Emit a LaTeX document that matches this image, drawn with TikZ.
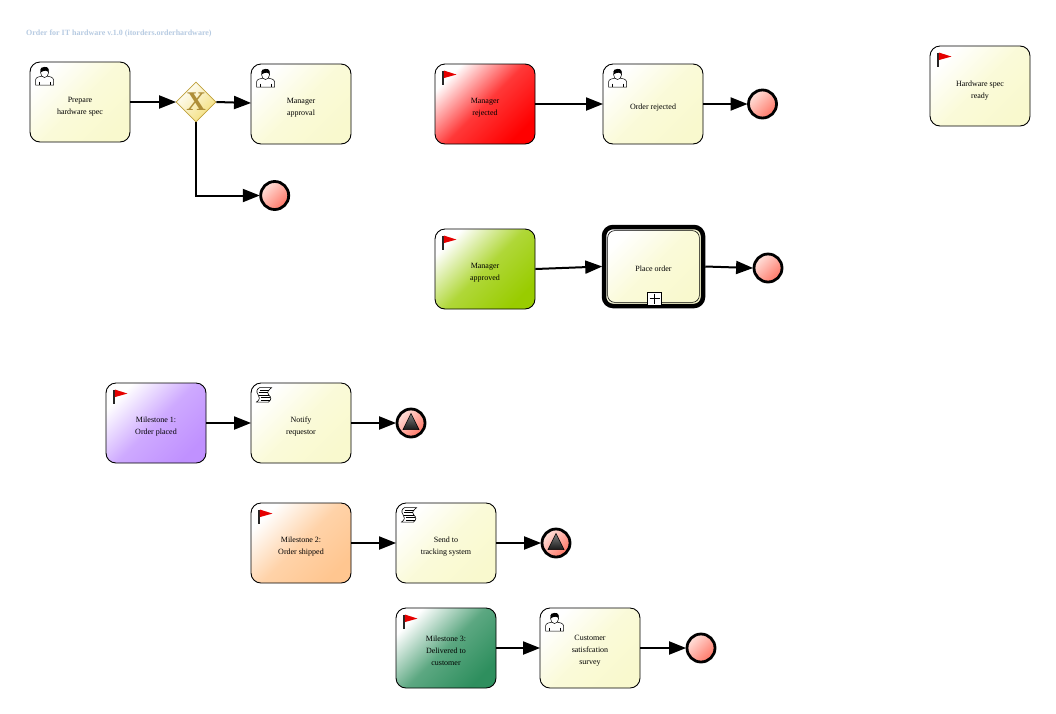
\documentclass[tikz,border=0pt]{standalone}
\usepackage{fontspec}
\setmainfont{Liberation Serif}
\usetikzlibrary{arrows.meta,shapes.geometric,calc}
\definecolor{taskc}{HTML}{F9F9CE}
\definecolor{redc}{HTML}{FF0000}
\definecolor{greenc}{HTML}{99CC00}
\definecolor{purplec}{HTML}{C091FF}
\definecolor{orangec}{HTML}{FFC690}
\definecolor{dgreenc}{HTML}{2E8F5E}
\definecolor{titlec}{HTML}{B7CBE2}
\definecolor{goldb}{HTML}{BFA03A}
\definecolor{goldx}{HTML}{AE8E38}
\definecolor{goldf}{HTML}{F3DE78}
\definecolor{endtop}{HTML}{FFE2DC}
\definecolor{endbot}{HTML}{FF7565}
\newcommand{\ts}[1][13.3]{\rule{0pt}{#1pt}}
\tikzset{
  x=1pt,y=-1pt,
  bpmn/.style={draw=black,line width=.9pt,rounded corners=10pt,minimum width=100pt,minimum height=80pt,inner sep=0pt,align=center,
    font=\fontsize{8}{12}\selectfont},
  flagnode/.style={bpmn,top color=white,bottom color=#1,middle color=#1!78!white,shading angle=45},
  tasknode/.style={flagnode=taskc},
  subproc/.style={tasknode,line width=4.5pt,rounded corners=9pt,minimum width=99pt,minimum height=79pt},
  endev/.style={circle,draw=black,line width=2.8pt,minimum size=28pt,inner sep=0pt,top color=endtop,bottom color=endbot,shading angle=45},
  gate/.style={diamond,aspect=1,draw=goldb,line width=.8pt,minimum size=40pt,inner sep=0pt,top color=white,bottom color=goldf,shading angle=45},
  flow/.style={draw=black,line width=2pt,-{Triangle[length=17pt,width=13pt]},shorten >=-.5pt},
  titletext/.style={font=\fontsize{8}{10}\bfseries\selectfont,text=titlec,inner sep=0pt,anchor=west}
}
\newcommand{\flagicon}[1]{%
  \fill[black!85] ($(#1.north west)+(7,7)$) rectangle ++(2.4,14);
  \fill[red!90!black] ($(#1.north west)+(9.4,7)$) -- ++(12.5,4) -- ++(-12.5,3.5) -- cycle;}
\newcommand{\usericon}[1]{%
  \begin{scope}[shift={($(#1.north west)+(6,5)$)}]
    \draw[black,line width=.5pt,fill=white] (0,18.5) -- (0,13.5) .. controls (0,10.5) and (4,10) .. (6.5,9.5) -- (11.5,9.5) .. controls (14,10) and (18,10.5) .. (18,13.5) -- (18,18.5) -- cycle;
    \draw[black,line width=.4pt] (3.5,15) -- (3.5,18.5) (14.5,15) -- (14.5,18.5);
    \draw[black,line width=.5pt,fill=white] (9,6) ellipse (4 and 5);
    \fill[black] (5,6) .. controls (4,1) and (7,0) .. (9,0.4) .. controls (12,0) and (14,2) .. (13,6) .. controls (12,3.5) and (8,3.5) .. cycle;
  \end{scope}}
\newcommand{\scripticon}[1]{%
  \begin{scope}[shift={($(#1.north west)+(6,5)$)}]
    \draw[black,line width=.6pt,fill=white] (3,0) -- (15,0) .. controls (12,3) and (10,4) .. (12,7) .. controls (15,10) and (15,12) .. (12,14.5) -- (0,14.5) .. controls (4,12) and (3,9) .. (1.5,7) .. controls (-.5,4) and (0,2) .. cycle;
    \draw[black,line width=.5pt] (3,2.5) -- (12.5,2.5) (2,5) -- (11,5) (2.5,7.5) -- (12,7.5) (4,10) -- (13.5,10) (4,12.5) -- (13,12.5);
  \end{scope}}
\newcommand{\triangleicon}[1]{%
  \shade[draw=black,line width=.5pt,top color=black!50,bottom color=black!90] ($(#1.center)+(0,-9.5)$) -- ($(#1.center)+(8,6.5)$) -- ($(#1.center)+(-8,6.5)$) -- cycle;}
\begin{document}
\begin{tikzpicture}
\useasboundingbox (0,0) rectangle (1056,713);
\fill[white] (0,0) rectangle (1056,713);
\node[titletext] (title) at (26,33.5) {Order for IT hardware v.1.0 (itorders.orderhardware)};

\node[tasknode] (prep) at (80,102) {\ts[15.3]Prepare\\hardware spec};
\node[gate] (gw) at (196,102) {};
\node[tasknode] (mapp) at (301,104) {\ts Manager\\approval};
\node[endev] (e1) at (274.7,195.5) {};

\node[flagnode=redc] (mrej) at (485,104) {\ts Manager\\rejected};
\node[tasknode] (orej) at (653,104) {\ts Order rejected};
\node[endev] (e2) at (762.5,104) {};

\node[tasknode] (ready) at (980,86) {\ts[15.3]Hardware spec\\ready};

\node[flagnode=greenc] (mok) at (485,269) {\ts Manager\\approved};
\node[subproc] (place) at (653.5,266.5) {\ts[10.5]Place order};
\node[endev] (e3) at (768,268) {};

\node[flagnode=purplec] (m1) at (156,423) {\ts Milestone 1:\\Order placed};
\node[tasknode] (notify) at (301,423) {\ts Notify\\requestor};
\node[endev] (e4) at (411,423) {};

\node[flagnode=orangec] (m2) at (301,543) {\ts Milestone 2:\\Order shipped};
\node[tasknode] (send) at (446,543) {\ts Send to\\tracking system};
\node[endev] (e5) at (556,543) {};

\node[flagnode=dgreenc] (m3) at (446,648) {\ts[11.3]Milestone 3:\\Delivered to\\customer};
\node[tasknode] (survey) at (590,648) {\ts[11.3]Customer\\satisfcation\\survey};
\node[endev] (e6) at (701,648) {};

\draw[black,line width=.6pt,rounded corners=7pt] ($(place.north west)+(5.9,5.9)$) rectangle ($(place.south east)+(-5.9,-5.9)$);
\node[draw=black,fill=white,line width=.7pt,minimum width=14.5pt,minimum height=13pt,inner sep=0pt] (plus) at (654.5,298.5) {};
\draw[black,line width=.8pt] ($(plus.center)+(-5,0)$) -- ($(plus.center)+(5,0)$) ($(plus.center)+(0,-5)$) -- ($(plus.center)+(0,5)$);

\node[inner sep=0pt,font=\fontsize{27}{27}\bfseries\selectfont,text=goldx] (gwx) at (gw.center) {X};

\usericon{prep}\usericon{mapp}\usericon{orej}\usericon{survey}
\scripticon{notify}\scripticon{send}
\flagicon{mrej}\flagicon{ready}\flagicon{mok}\flagicon{m1}\flagicon{m2}\flagicon{m3}
\triangleicon{e4}\triangleicon{e5}

\draw[flow] (prep.east |- gw.west) -- (gw.west);
\draw[flow] (gw.east) -- ($(mapp.west)+(0,-1)$);
\draw[flow] (gw.south) |- (e1.west);
\draw[flow] (mrej.east) -- (orej.west);
\draw[flow] (orej.east) -- (e2.west);
\draw[flow] (mok.east) -- (place.west);
\draw[flow] (place.east) -- (e3.west);
\draw[flow] (m1.east) -- (notify.west);
\draw[flow] (notify.east) -- (e4.west);
\draw[flow] (m2.east) -- (send.west);
\draw[flow] (send.east) -- (e5.west);
\draw[flow] (m3.east) -- (survey.west);
\draw[flow] (survey.east) -- (e6.west);
\end{tikzpicture}
\end{document}
